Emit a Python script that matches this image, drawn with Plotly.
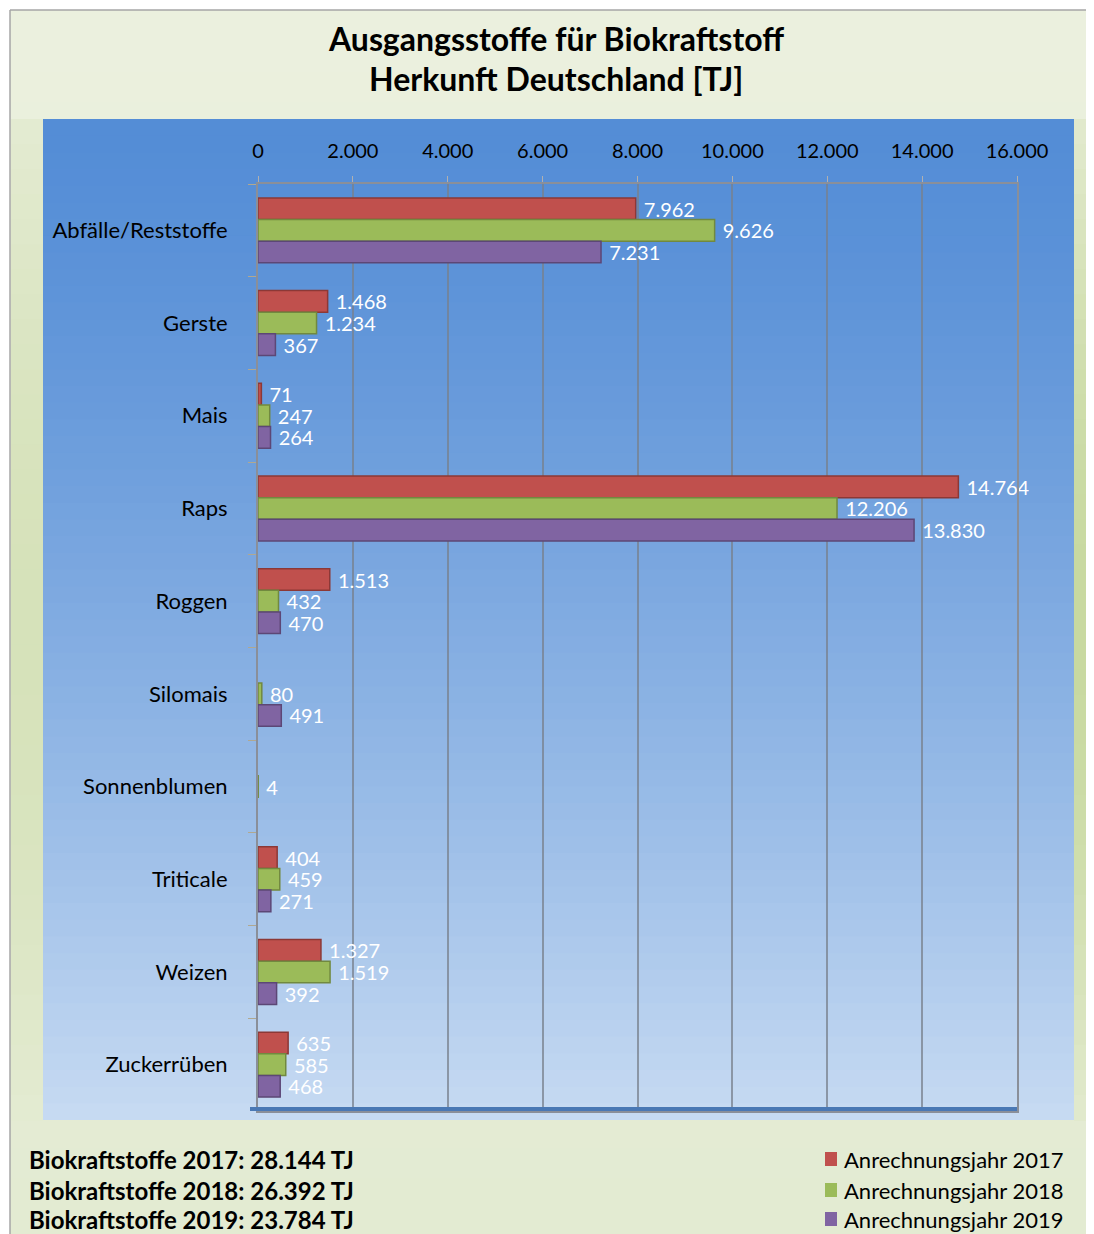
import math
import plotly.graph_objects as go

categories = ["Abfälle/Reststoffe", "Gerste", "Mais", "Raps", "Roggen",
              "Silomais", "Sonnenblumen", "Triticale", "Weizen", "Zuckerrüben"]
values_2017 = [7962, 1468, 71, 14764, 1513, None, None, 404, 1327, 635]
values_2018 = [9626, 1234, 247, 12206, 432, 80, 4, 459, 1519, 585]
values_2019 = [7231, 367, 264, 13830, 470, 491, None, 271, 392, 468]
series_names = ["Anrechnungsjahr 2017", "Anrechnungsjahr 2018", "Anrechnungsjahr 2019"]
series_colors = ["#c0504d", "#9bbb59", "#8064a2"]
series_edges = ["#8c3836", "#71893f", "#5c4776"]
totals_text = ["Biokraftstoffe 2017: 28.144 TJ",
               "Biokraftstoffe 2018: 26.392 TJ",
               "Biokraftstoffe 2019: 23.784 TJ"]
x_ticks = [0, 2000, 4000, 6000, 8000, 10000, 12000, 14000, 16000]

OFF = 8  # page body margin
W, H = 1094 - OFF, 1234 - OFF
ML = 258 - OFF
MT = 184 - OFF
MR = W - (1017 - OFF)
MB = H - (1111 - OFF)
PW, PH = W - ML - MR, H - MT - MB


def px(x):  # page x -> paper
    return (x - OFF - ML) / PW


def py(y):  # page y -> paper
    return (H - MB - (y - OFF)) / PH


def lerp(c1, c2, t):
    return tuple(int(round(a + (b - a) * t)) for a, b in zip(c1, c2))


def rgb(c):
    return "rgb(%d,%d,%d)" % c


shapes = []
N = 40
y0, y1 = 10, 1240
for i in range(N):
    t = i / (N - 1)
    c = lerp((235, 240, 222), (227, 235, 210), t)
    ya = y0 + (y1 - y0) * i / N
    yb = y0 + (y1 - y0) * (i + 1) / N + 1
    shapes.append(dict(type="rect", xref="paper", yref="paper", layer="below",
                       x0=px(10), x1=px(1100), y0=py(ya), y1=py(yb),
                       fillcolor=rgb(c), line=dict(width=0)))
for i in range(N):
    t = (i + 0.5) / N
    ya = 119 + (1120 - 119) * i / N
    yb = 119 + (1120 - 119) * (i + 1) / N + 1
    s = math.sin(math.pi * t)
    cr = lerp((226, 234, 206), (200, 217, 160), s)
    cl = lerp((228, 235, 210), (214, 226, 186), s)
    shapes.append(dict(type="rect", xref="paper", yref="paper", layer="below",
                       x0=px(1074), x1=px(1100), y0=py(ya), y1=py(yb),
                       fillcolor=rgb(cr), line=dict(width=0)))
    shapes.append(dict(type="rect", xref="paper", yref="paper", layer="below",
                       x0=px(11), x1=px(43), y0=py(ya), y1=py(yb),
                       fillcolor=rgb(cl), line=dict(width=0)))
shapes.append(dict(type="line", xref="paper", yref="paper", layer="below",
                   x0=px(10), x1=px(1100), y0=py(10), y1=py(10),
                   line=dict(color="#a6a6a6", width=1.5)))
shapes.append(dict(type="line", xref="paper", yref="paper", layer="below",
                   x0=px(10), x1=px(10), y0=py(10), y1=py(1240),
                   line=dict(color="#a6a6a6", width=1.5)))
NB = 60
for i in range(NB):
    t = i / (NB - 1)
    c = lerp((84, 141, 214), (198, 218, 242), t ** 1.35)
    ya = 119 + (1120 - 119) * i / NB
    yb = 119 + (1120 - 119) * (i + 1) / NB + 1
    shapes.append(dict(type="rect", xref="paper", yref="paper", layer="below",
                       x0=px(43), x1=px(1074), y0=py(ya), y1=py(min(yb, 1120)),
                       fillcolor=rgb(c), line=dict(width=0)))
# floor of the chart
shapes.append(dict(type="line", xref="paper", yref="paper", layer="above",
                   x0=px(250), x1=px(1017), y0=py(1109), y1=py(1109),
                   line=dict(color="#4a78b4", width=4)))

fig = go.Figure()
for name, vals, col, edge in zip(series_names, [values_2017, values_2018, values_2019],
                                 series_colors, series_edges):
    fig.add_trace(go.Bar(
        y=categories, x=vals, name=name, orientation="h",
        marker=dict(color=col, line=dict(color=edge, width=1.5)),
        text=vals, texttemplate=" %{x:,}", textposition="outside",
        textfont=dict(color="white", size=20, family="Lato"),
        cliponaxis=False, constraintext="none", showlegend=False,
    ))

annotations = [
    dict(text="<b>Ausgangsstoffe für Biokraftstoff</b>", xref="paper", yref="paper",
         x=px(556), y=py(38), showarrow=False, font=dict(size=32, family="Lato", color="black"),
         xanchor="center", yanchor="middle"),
    dict(text="<b>Herkunft Deutschland [TJ]</b>", xref="paper", yref="paper",
         x=px(556), y=py(79), showarrow=False, font=dict(size=32, family="Lato", color="black"),
         xanchor="center", yanchor="middle"),
]
row_y = [1159, 1190, 1219]
for i, t in enumerate(totals_text):
    annotations.append(dict(text="<b>%s</b>" % t, xref="paper", yref="paper",
                            x=px(27), y=py(row_y[i]), showarrow=False,
                            xanchor="left", yanchor="middle",
                            font=dict(size=24, family="Lato", color="black")))
for i, (name, col) in enumerate(zip(series_names, series_colors)):
    shapes.append(dict(type="rect", xref="paper", yref="paper",
                       x0=px(825), x1=px(837), y0=py(row_y[i] - 7), y1=py(row_y[i] + 7),
                       fillcolor=col, line=dict(width=0)))
    annotations.append(dict(text=name, xref="paper", yref="paper",
                            x=px(842), y=py(row_y[i]), showarrow=False,
                            xanchor="left", yanchor="middle",
                            font=dict(size=22, family="Lato", color="black")))

fig.update_layout(
    width=W, height=H,
    margin=dict(l=ML, r=MR, t=MT, b=MB),
    paper_bgcolor="white", plot_bgcolor="rgba(0,0,0,0)",
    separators=",.",
    barmode="group", bargap=0.3, bargroupgap=0.0,
    font=dict(family="Lato", size=20, color="black"),
    shapes=shapes, annotations=annotations,
    showlegend=False,
    xaxis=dict(side="top", range=[0, 16000], tickvals=x_ticks, tickformat=",",
               showgrid=True, gridcolor="rgba(120,128,140,0.75)", gridwidth=2,
               showline=True, linecolor="#8a8f99", linewidth=2, mirror=True,
               ticks="outside", ticklen=6, tickcolor="#b0b0b0", ticklabelstandoff=10,
               tickfont=dict(size=20, family="Lato", color="black"), zeroline=False,
               fixedrange=True),
    yaxis=dict(autorange="reversed", showgrid=False, tickson="boundaries",
               ticks="outside", ticklen=8, tickcolor="#b0a890",
               showline=True, linecolor="#8a8f99", linewidth=2, mirror=True,
               ticklabelstandoff=24,
               tickfont=dict(size=22, family="Lato", color="black"), fixedrange=True),
)

fig.write_html("out.html")
